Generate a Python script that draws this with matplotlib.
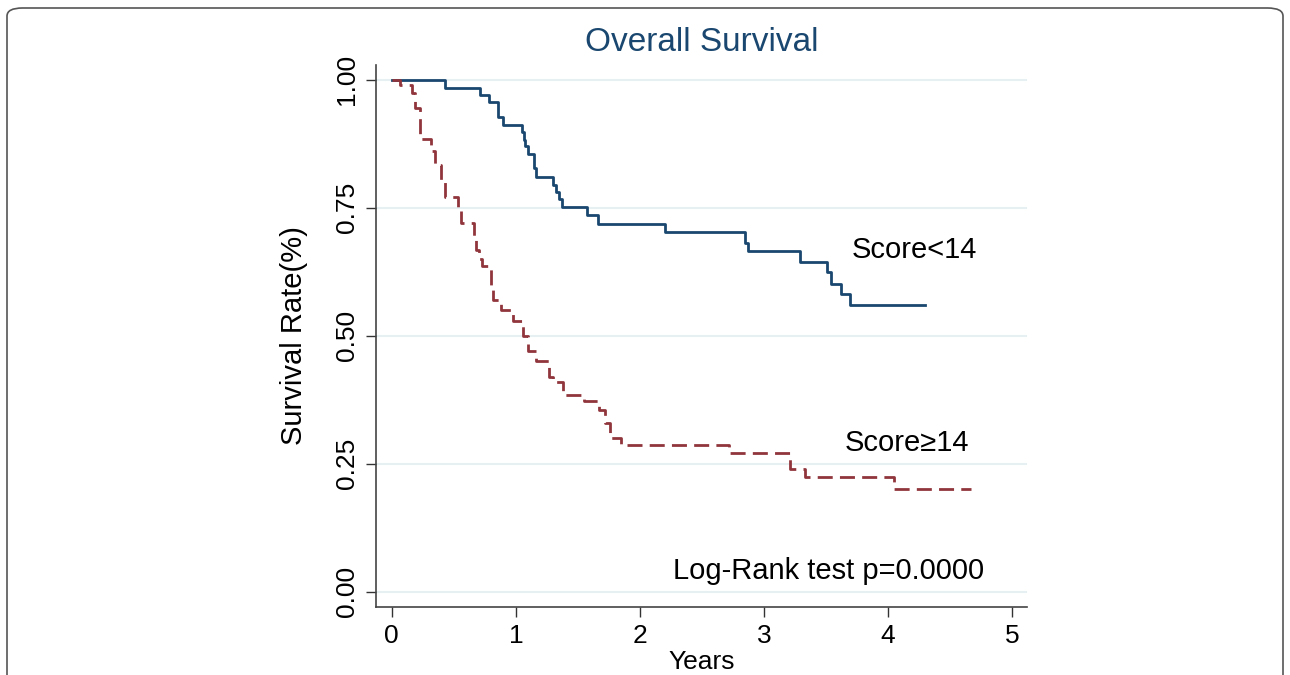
import numpy as np
import matplotlib.pyplot as plt
from matplotlib.patches import FancyBboxPatch

# -----------------------------
# Data
# -----------------------------
# Score<14 group: event times (years) and survival after each step
low_t = [0.0, 0.43, 0.71, 0.78, 0.856, 0.90, 1.05, 1.063, 1.07, 1.10, 1.15, 1.16,
         1.30, 1.32, 1.35, 1.37, 1.57, 1.66, 2.20, 2.85, 2.87, 3.29, 3.51, 3.54,
         3.62, 3.69]
low_s = [1.0, 0.985, 0.971, 0.956, 0.927, 0.912, 0.899, 0.883, 0.870, 0.855, 0.828, 0.811,
         0.795, 0.781, 0.767, 0.751, 0.735, 0.719, 0.702, 0.682, 0.665, 0.644, 0.624, 0.602,
         0.581, 0.560]
low_end = 4.30

# Score>=14 group
high_t = [0.0, 0.07, 0.16, 0.19, 0.23, 0.32, 0.35, 0.40, 0.43, 0.53, 0.56, 0.66,
          0.68, 0.70, 0.73, 0.80, 0.82, 0.88, 0.98, 1.06, 1.10, 1.16, 1.27, 1.30,
          1.38, 1.55, 1.67, 1.72, 1.76, 1.85, 2.72, 3.21, 3.33, 4.05]
high_s = [1.0, 0.99, 0.974, 0.945, 0.885, 0.86, 0.834, 0.80, 0.771, 0.745, 0.72, 0.69,
          0.668, 0.65, 0.637, 0.60, 0.57, 0.551, 0.528, 0.50, 0.47, 0.45, 0.42, 0.41,
          0.385, 0.372, 0.355, 0.33, 0.30, 0.287, 0.27, 0.24, 0.224, 0.20]
high_end = 4.67

x_ticks = [0, 1, 2, 3, 4, 5]
y_ticks = [0.0, 0.25, 0.5, 0.75, 1.0]
y_ticklabels = ["0.00", "0.25", "0.50", "0.75", "1.00"]

NAVY = "#1a476f"
MAROON = "#90353b"
GRID = "#e6eff2"

plt.rcParams["font.family"] = ["Liberation Sans", "DejaVu Sans"]


def step_xy(t, s, t_end):
    x = list(t) + [t_end]
    y = list(s) + [s[-1]]
    return np.array(x), np.array(y)


def main():
    fig = plt.figure(figsize=(12.9, 6.75), dpi=100)

    # rounded frame round the whole figure
    frame = FancyBboxPatch((7 / 1290, -0.05), 1276 / 1290, (675 - 8) / 675 + 0.05,
                           boxstyle="round,pad=0,rounding_size=0.012",
                           transform=fig.transFigure, fill=False,
                           edgecolor="#555555", linewidth=1.2)
    fig.patches.append(frame)

    ax = fig.add_axes([376 / 1290, 1 - 607 / 675, (1027 - 376) / 1290, (607 - 65) / 675])

    for y in y_ticks:
        ax.axhline(y, color=GRID, linewidth=1.5, zorder=0)

    xl, yl = step_xy(low_t, low_s, low_end)
    ax.step(xl, yl, where="post", color=NAVY, linewidth=2.0)
    xh, yh = step_xy(high_t, high_s, high_end)
    ax.step(xh, yh, where="post", color=MAROON, linewidth=2.0, linestyle=(0, (5.4, 2.6)))

    ax.set_xlim(-0.127, 5.12)
    ax.set_ylim(-0.030, 1.029)
    ax.set_xticks(x_ticks)
    ax.set_yticks(y_ticks)
    ax.set_yticklabels(y_ticklabels, rotation=90, va="center")
    ax.tick_params(axis="both", labelsize=19, length=7, width=1, color="#333333")
    ax.tick_params(axis="x", pad=5)
    ax.tick_params(axis="y", pad=5)

    for side in ["top", "right"]:
        ax.spines[side].set_visible(False)
    for side in ["left", "bottom"]:
        ax.spines[side].set_color("#444444")
        ax.spines[side].set_linewidth(1.2)

    ax.set_xlabel("Years", fontsize=19, labelpad=2)
    ax.set_ylabel("Survival Rate(%)", fontsize=21, labelpad=20)
    ax.set_title("Overall Survival", fontsize=24, color=NAVY, pad=10)

    ax.text(3.71, 0.668, "Score<14", fontsize=21, va="center", ha="left")
    ax.text(3.65, 0.29, "Score\u226514", fontsize=21, va="center", ha="left")
    ax.text(2.265, 0.04, "Log-Rank test p=0.0000", fontsize=21, va="center", ha="left")

    fig.savefig("out.png", dpi=100)
    plt.close(fig)


if __name__ == "__main__":
    main()
